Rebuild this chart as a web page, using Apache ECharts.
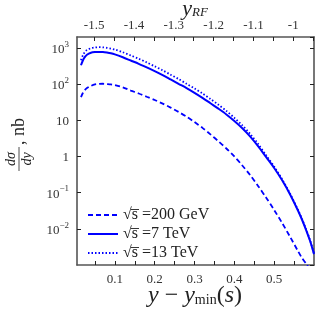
<!DOCTYPE html>
<html>
<head>
<meta charset="utf-8">
<script src="https://cdn.jsdelivr.net/npm/echarts@6/dist/echarts.min.js"></script>
<style>html,body{margin:0;padding:0;background:#fff}#c{width:318px;height:318px}</style>
</head>
<body>
<div id="c"></div>
<script>
// x = y - y_min(s)
var xValues = [0.015,0.02,0.025,0.03,0.04,0.05,0.06,0.07,0.08,0.09,0.10,0.12,0.14,0.16,0.18,0.20,0.22,0.24,0.26,0.28,0.30,0.32,0.34,0.36,0.38,0.40,0.42,0.44,0.46,0.48,0.50,0.52,0.54,0.56,0.57,0.58,0.59,0.60];
// dσ/dy, nb
var s200GeV = [43.7,57.5,69.2,77.6,89.1,97.7,101,102,100,97.7,93.3,81.3,66.1,55.0,44.7,36.3,28.8,22.4,17.0,12.6,8.91,6.17,4.07,2.63,1.66,1.0,0.562,0.302,0.151,0.0724,0.0331,0.0145,0.0060,0.0024,0.00155,0.0011,0.00075,null];
var s7TeV = [331,457,562,646,733,767,776,767,741,708,661,550,447,363,288,229,178,135,102,77.6,57.5,41.7,29.5,20.9,14.5,9.55,6.03,3.55,1.91,0.955,0.479,0.219,0.0891,0.0316,0.0178,0.00933,0.00468,0.0020];
var s13TeV = [457,631,776,871,977,1023,1047,1035,1000,955,902,759,617,501,398,309,240,182,138,102,75.9,55.0,38.9,26.9,18.2,11.7,7.24,4.17,2.19,1.07,0.525,0.234,0.0933,0.0331,0.0186,0.00977,0.00490,0.00209];
var seriesNames = ['\u221As\u0305 =200 GeV', '\u221As\u0305 =7 TeV', '\u221As\u0305 =13 TeV'];
var xLabels = [0.1,0.2,0.3,0.4,0.5];
var xTicks = [0.05,0.1,0.15,0.2,0.25,0.3,0.35,0.4,0.45,0.5,0.55];
var topLabels = [-1.5,-1.4,-1.3,-1.2,-1.1,-1];
var topTicks = [-1.5,-1.45,-1.4,-1.35,-1.3,-1.25,-1.2,-1.15,-1.1,-1.05,-1,-0.95];
var xRange = [0.005, 0.6];
var topRange = [-1.543, -0.948];
var yRange = [0.001, 2000];

function pairs(ys){ var out=[]; for(var i=0;i<xValues.length;i++){ if(ys[i]!=null) out.push([xValues[i], ys[i]]); } return out; }

var SERIF = '"Liberation Serif", "DejaVu Serif", serif';
var FRAME = '#555';
var TXT = '#333';

var chart = echarts.init(document.getElementById('c'));
chart.setOption({
  animation: false,
  grid: {left: 77, right: 4, top: 37, bottom: 53, show: false},
  xAxis: [{
    type: 'value', position: 'bottom', min: xRange[0], max: xRange[1],
    axisLine: {show: true, onZero: false, lineStyle: {color: FRAME, width: 1.6}},
    axisTick: {show: true, inside: true, length: 4, customValues: xTicks, lineStyle: {color: '#222', width: 1}},
    axisLabel: {customValues: xLabels, color: TXT, fontFamily: SERIF, fontSize: 13, margin: 8},
    splitLine: {show: false}
  }, {
    type: 'value', position: 'top', min: topRange[0], max: topRange[1],
    axisLine: {show: true, onZero: false, lineStyle: {color: FRAME, width: 1.6}},
    axisTick: {show: true, inside: true, length: 4, customValues: topTicks, lineStyle: {color: '#222', width: 1}},
    axisLabel: {customValues: topLabels, color: TXT, fontFamily: SERIF, fontSize: 13, margin: 5,
      formatter: function(v){ return String(Math.round(v*10)/10); }},
    splitLine: {show: false}
  }],
  yAxis: [{
    type: 'log', logBase: 10, min: yRange[0], max: yRange[1], position: 'left', splitNumber: 7,
    axisLine: {show: true, onZero: false, lineStyle: {color: FRAME, width: 1.6}},
    axisTick: {show: true, inside: true, length: 4, lineStyle: {color: '#222', width: 1}},
    axisLabel: {color: TXT, fontFamily: SERIF, fontSize: 13, margin: 8, showMinLabel: false, showMaxLabel: false,
      formatter: function(v){
        var e = Math.round(Math.log10(v));
        if (e === 0) return '{b|1}';
        if (e === 1) return '{b|10}';
        return '{b|10}{s|' + (e < 0 ? '\u2212' + (-e) : e) + '}';
      },
      rich: {
        b: {fontFamily: SERIF, fontSize: 13, color: TXT, lineHeight: 16, verticalAlign: 'bottom'},
        s: {fontFamily: SERIF, fontSize: 9, color: TXT, lineHeight: 16, verticalAlign: 'top'}
      }},
    splitLine: {show: false}
  }, {
    type: 'log', logBase: 10, min: yRange[0], max: yRange[1], position: 'right', splitNumber: 7,
    axisLine: {show: true, onZero: false, lineStyle: {color: FRAME, width: 1.6}},
    axisTick: {show: true, inside: true, length: 4, lineStyle: {color: '#222', width: 1}},
    axisLabel: {show: false},
    splitLine: {show: false}
  }],
  legend: {
    show: true, orient: 'vertical', left: 82, top: 202, itemWidth: 30, itemHeight: 14, itemGap: 3,
    itemStyle: {opacity: 0},
    textStyle: {fontFamily: SERIF, fontSize: 16, color: '#222'},
    data: seriesNames
  },
  series: [{
    name: seriesNames[0], type: 'line', xAxisIndex: 0, yAxisIndex: 0, symbol: 'none', smooth: 0.3,
    data: pairs(s200GeV), lineStyle: {color: '#0000ff', width: 1.8, type: [5, 3]}, itemStyle: {color: '#0000ff'}
  }, {
    name: seriesNames[1], type: 'line', xAxisIndex: 0, yAxisIndex: 0, symbol: 'none', smooth: 0.3,
    data: pairs(s7TeV), lineStyle: {color: '#0000ff', width: 2}, itemStyle: {color: '#0000ff'}
  }, {
    name: seriesNames[2], type: 'line', xAxisIndex: 0, yAxisIndex: 0, symbol: 'none', smooth: 0.3,
    data: pairs(s13TeV), lineStyle: {color: '#0000ff', width: 1.8, type: [1.5, 2]}, itemStyle: {color: '#0000ff'}
  }],
  graphic: [{
    type: 'text', x: 195, y: 9,
    style: {text: '{i|y}{sub|RF}', align: 'center', verticalAlign: 'middle',
      rich: {i: {font: 'italic 22px ' + SERIF, fill: '#222'}, sub: {font: 'italic 13px ' + SERIF, fill: '#222', padding: [8,0,0,0]}}}
  }, {
    type: 'text', x: 195, y: 296,
    style: {text: '{i|y}{n| \u2212 }{i|y}{sub|min}{n|(}{i|s}{n|)}', align: 'center', verticalAlign: 'middle',
      rich: {i: {font: 'italic 24px ' + SERIF, fill: '#222'}, n: {font: '24px ' + SERIF, fill: '#222'}, sub: {font: '14px ' + SERIF, fill: '#222', padding: [9,0,0,0]}}}
  }, {
    type: 'group', x: 19, y: 173, rotation: Math.PI / 2,
    children: [
      {type: 'text', x: 14, y: -1, style: {text: 'd\u03C3', font: 'italic 14px ' + SERIF, fill: '#222', align: 'center', verticalAlign: 'bottom'}},
      {type: 'line', shape: {x1: 2, y1: 0, x2: 26, y2: 0}, style: {stroke: '#222', lineWidth: 0.8}},
      {type: 'text', x: 14, y: 1, style: {text: 'dy', font: 'italic 14px ' + SERIF, fill: '#222', align: 'center', verticalAlign: 'top'}},
      {type: 'text', x: 28, y: 0, style: {text: ', nb', font: '18px ' + SERIF, fill: '#222', align: 'left', verticalAlign: 'middle'}}
    ]
  }]
});
</script>
</body>
</html>
